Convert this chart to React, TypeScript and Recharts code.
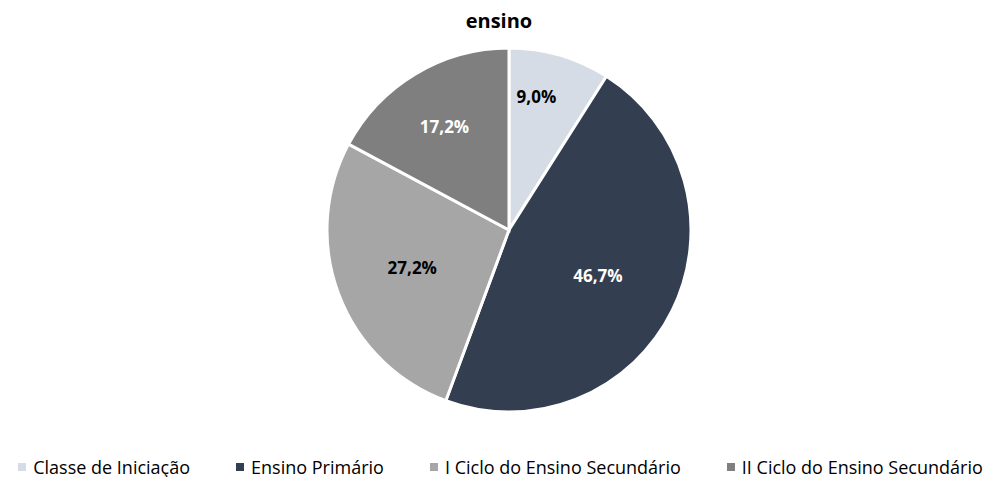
import { PieChart, Pie, Cell, Legend } from 'recharts';

const categories = ['Classe de Iniciação', 'Ensino Primário', 'I Ciclo do Ensino Secundário', 'II Ciclo do Ensino Secundário'];
const values = [9.0, 46.7, 27.2, 17.2];
const colors = ['#D6DCE5', '#333F50', '#A6A6A6', '#7F7F7F'];
const labelColors = ['#000000', '#FFFFFF', '#000000', '#FFFFFF'];
// where each label sits inside its slice (fraction of radius, angle nudge in degrees)
const labelRadius = [0.75, 0.55, 0.57, 0.67];
const labelAngleShift = [4.6, -1, 0.4, 1];

const data = categories.map((name, i) => ({ name, value: values[i] }));

const FONT = '"Open Sans", sans-serif';
const RAD = Math.PI / 180;

const renderLabel = (props: any) => {
    const { cx, cy, midAngle, outerRadius, index, value } = props;
    const r = outerRadius * labelRadius[index];
    const a = (midAngle + labelAngleShift[index]) * RAD;
    const x = cx + r * Math.cos(-a);
    const y = cy + r * Math.sin(-a);
    return (
        <text x={x} y={y} fill={labelColors[index]} textAnchor="middle" dominantBaseline="central"
            fontFamily={FONT} fontWeight={700} fontSize={17}>
            {value.toFixed(1).replace('.', ',') + '%'}
        </text>
    );
};

const renderLegend = (props: any) => {
    const { payload } = props;
    return (
        <div style={{ display: 'flex', justifyContent: 'center', gap: 46, fontFamily: FONT, fontSize: 18, lineHeight: '22px', color: '#000' }}>
            {payload.map((p: any, i: number) => (
                <div key={i} style={{ display: 'flex', alignItems: 'center' }}>
                    <span style={{ width: 8, height: 8, background: p.color, display: 'inline-block', marginRight: 7 }} />
                    <span>{p.value}</span>
                </div>
            ))}
        </div>
    );
};

const App = () => {
    return (
        <div style={{ position: 'absolute', left: 0, top: 0 }}>
            <PieChart width={1001} height={477}>
                <text x={499} y={28} textAnchor="middle" fontFamily={FONT} fontWeight={700} fontSize={20} fill="#000">
                    ensino
                </text>
                <Pie data={data} dataKey="value" nameKey="name" cx={504} cy={225} outerRadius={182}
                    startAngle={90} endAngle={-270} stroke="#FFFFFF" strokeWidth={3}
                    label={renderLabel} labelLine={false} isAnimationActive={false}>
                    {data.map((d, i) => (
                        <Cell key={d.name} fill={colors[i]} />
                    ))}
                </Pie>
                <Legend verticalAlign="bottom" content={renderLegend} wrapperStyle={{ bottom: 0, top: 456, left: 0, width: 1001, height: 22 }} />
            </PieChart>
        </div>
    );
};

export default App;
